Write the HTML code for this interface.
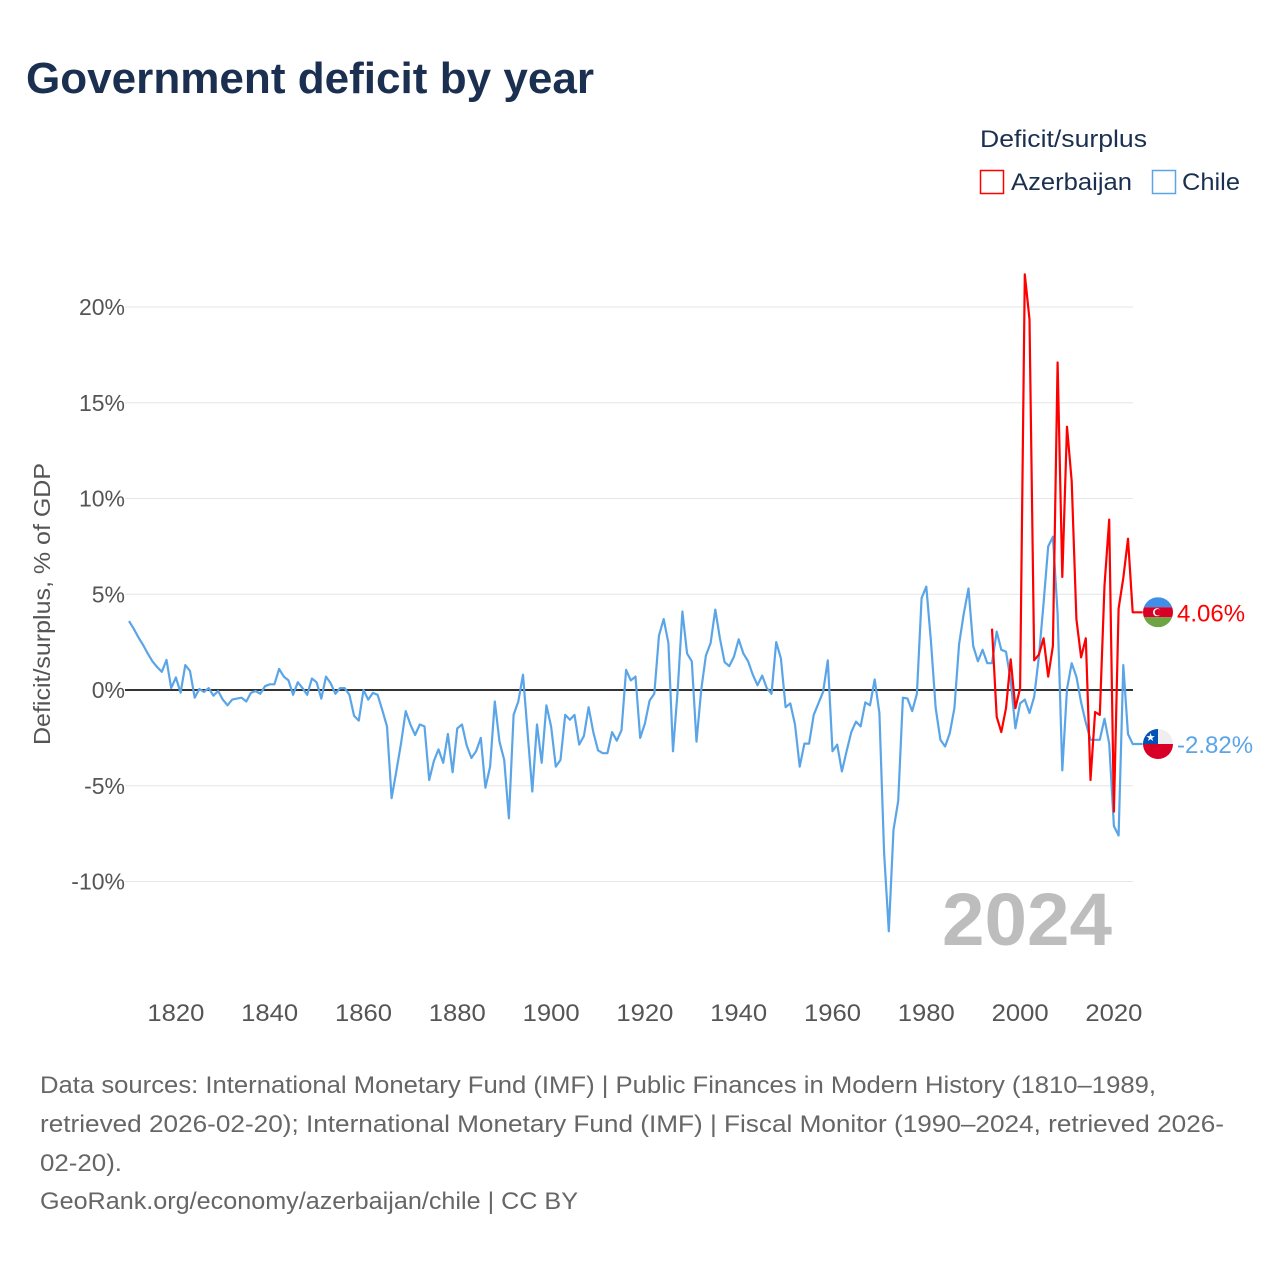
<!DOCTYPE html>
<html><head><meta charset="utf-8"><style>
html,body{margin:0;padding:0;background:#fff;}
svg{display:block;font-family:"Liberation Sans",sans-serif;}
</style></head><body>
<svg id="chart" width="1280" height="1280" viewBox="0 0 1280 1280" xmlns="http://www.w3.org/2000/svg">
<text x="26" y="93" font-size="44" font-weight="bold" fill="#1b3050" textLength="568" lengthAdjust="spacingAndGlyphs">Government deficit by year</text>
<text x="980" y="147" font-size="24" fill="#1b3050" textLength="167" lengthAdjust="spacingAndGlyphs">Deficit/surplus</text>
<g>
<rect x="980.5" y="170.5" width="23" height="23" fill="none" stroke="#ff0000" stroke-width="1.5"/>
<text x="1011" y="190" font-size="24" fill="#1b3050" textLength="121" lengthAdjust="spacingAndGlyphs">Azerbaijan</text>
</g>
<g>
<rect x="1152.5" y="170.5" width="23" height="23" fill="none" stroke="#5aa5e8" stroke-width="1.5"/>
<text x="1182" y="190" font-size="24" fill="#1b3050" textLength="58" lengthAdjust="spacingAndGlyphs">Chile</text>
</g>
<text transform="translate(50,604) rotate(-90)" text-anchor="middle" font-size="23" fill="#555" textLength="282" lengthAdjust="spacingAndGlyphs">Deficit/surplus, % of GDP</text>
<g id="grid"></g>
<g id="xticks"></g>
<text x="942" y="945" font-size="74" font-weight="bold" fill="#bdbdbd" textLength="170" lengthAdjust="spacingAndGlyphs">2024</text>
<g id="series"></g>
<g id="endlabels"></g>
<g font-size="24" fill="#666">
<text x="40" y="1093" textLength="1116" lengthAdjust="spacingAndGlyphs">Data sources: International Monetary Fund (IMF) | Public Finances in Modern History (1810–1989,</text>
<text x="40" y="1132" textLength="1184" lengthAdjust="spacingAndGlyphs">retrieved 2026-02-20); International Monetary Fund (IMF) | Fiscal Monitor (1990–2024, retrieved 2026-</text>
<text x="40" y="1171" textLength="82" lengthAdjust="spacingAndGlyphs">02-20).</text>
<text x="40" y="1209" textLength="538" lengthAdjust="spacingAndGlyphs">GeoRank.org/economy/azerbaijan/chile | CC BY</text>
</g>
</svg>
<script>
const chileStart = 1810;
const chileValues = [
3.6,3.2,2.75,2.35,1.9,1.5,1.2,0.95,1.57,0.1,
0.66,-0.14,1.3,1.0,-0.4,0.05,-0.1,0.1,-0.3,-0.05,
-0.5,-0.8,-0.5,-0.45,-0.4,-0.6,-0.15,-0.05,-0.2,0.2,
0.3,0.3,1.1,0.7,0.5,-0.25,0.4,0.1,-0.25,0.6,
0.4,-0.45,0.7,0.35,-0.2,0.1,0.1,-0.25,-1.35,-1.6,
0,-0.5,-0.15,-0.25,-1.05,-1.9,-5.65,-4.25,-2.8,-1.1,
-1.8,-2.35,-1.8,-1.9,-4.7,-3.7,-3.1,-3.8,-2.3,-4.3,
-2.0,-1.8,-2.9,-3.55,-3.2,-2.5,-5.1,-4.0,-0.6,-2.7,
-3.65,-6.7,-1.3,-0.6,0.8,-2.3,-5.3,-1.8,-3.8,-0.8,
-1.9,-4.0,-3.65,-1.3,-1.55,-1.3,-2.85,-2.4,-0.9,-2.2,
-3.15,-3.3,-3.3,-2.2,-2.65,-2.1,1.05,0.5,0.7,-2.5,
-1.75,-0.55,-0.2,2.85,3.7,2.45,-3.2,0,4.1,1.9,
1.5,-2.7,0,1.8,2.45,4.2,2.7,1.45,1.25,1.75,
2.65,1.9,1.5,0.8,0.25,0.75,0.1,-0.2,2.5,1.65,
-0.9,-0.7,-1.8,-4.0,-2.8,-2.8,-1.3,-0.7,-0.1,1.55,
-3.2,-2.85,-4.25,-3.2,-2.2,-1.65,-1.9,-0.65,-0.8,0.55,
-1.2,-8.5,-12.6,-7.3,-5.8,-0.4,-0.45,-1.1,-0.2,4.8,
5.4,2.5,-0.95,-2.6,-2.95,-2.25,-0.95,2.4,4.0,5.3,
2.3,1.5,2.1,1.4,1.4,3.05,2.1,2.0,0.5,-2.0,
-0.7,-0.5,-1.2,-0.35,1.75,4.55,7.5,8.0,4.0,-4.2,
0.05,1.4,0.7,-0.65,-1.7,-2.6,-2.6,-2.6,-1.5,-2.8,
-7.1,-7.6,1.3,-2.3,-2.82];
const azStart = 1994;
const azValues = [3.2,-1.4,-2.2,-0.95,1.6,-0.95,0.1,21.7,19.35,1.55,1.85,2.7,0.7,2.3,17.1,5.9,13.75,10.9,3.7,1.7,2.7,-4.7,-1.15,-1.3,5.45,8.9,-6.35,4.25,5.85,7.9,4.06];
const yTicks = [-10,-5,0,5,10,15,20];
const yTickLabels = ["-10%","-5%","0%","5%","10%","15%","20%"];
const xTicks = [1820,1840,1860,1880,1900,1920,1940,1960,1980,2000,2020];
const chileLabel = "-2.82%";
const azLabel = "4.06%";

const NS = "http://www.w3.org/2000/svg";
const X0 = 129, PX_PER_YEAR = 4.69, Y0 = 690, PX_PER_PCT = 19.15;
const xScale = yr => X0 + (yr - 1810) * PX_PER_YEAR;
const yScale = v => Y0 - v * PX_PER_PCT;
const PLOT_L = 125, PLOT_R = 1133;
function mk(tag, attrs, parent){const e=document.createElementNS(NS,tag);for(const k in attrs)e.setAttribute(k,attrs[k]);parent.appendChild(e);return e;}

const grid = document.getElementById('grid');
yTicks.forEach((t,i)=>{
  const y = yScale(t);
  if (t !== 0) {
    const l = mk('line',{x1:PLOT_L,x2:PLOT_R,y1:y,y2:y,stroke:'#e6e6e6','stroke-width':1},grid);
    
    
  }
  const tx = mk('text',{x:125,y:y+8,'text-anchor':'end','font-size':23,fill:'#555'},grid);
  tx.textContent = yTickLabels[i];
  
  
});
const xt = document.getElementById('xticks');
xTicks.forEach(t=>{
  const tx = mk('text',{x:xScale(t),y:1021,'text-anchor':'middle','font-size':24,fill:'#555',textLength:57,lengthAdjust:'spacingAndGlyphs'},xt);
  tx.textContent = t;
  
  
});

const series = document.getElementById('series');
function linePts(start, vals){return vals.map((v,i)=>xScale(start+i).toFixed(1)+','+yScale(v).toFixed(1));}
const zl = mk('line',{x1:PLOT_L,x2:PLOT_R,y1:Y0,y2:Y0,stroke:'#333','stroke-width':2},series);



function drawSeries(start, vals, color, name){
  const pts = linePts(start, vals);
  const lastV = vals[vals.length-1];
  pts.push((xScale(start+vals.length-1)+10).toFixed(1)+','+yScale(lastV).toFixed(1));
  const pl = mk('polyline',{points:pts.join(' '),fill:'none',stroke:color,'stroke-width':2.2,'stroke-linejoin':'round'},series);
  
  
}
drawSeries(chileStart, chileValues, '#5aa5e8', 'chile-line');
drawSeries(azStart, azValues, '#ff0000', 'azerbaijan-line');

const el = document.getElementById('endlabels');
const cx = 1158;
{
  const y = yScale(azValues[azValues.length-1]);
  const g = mk('g',{},el);
  
  
  mk('clipPath',{id:'cA'},g).appendChild(document.createElementNS(NS,'circle'));
  const c = g.querySelector('circle'); c.setAttribute('cx',cx); c.setAttribute('cy',y); c.setAttribute('r',15);
  const gg = mk('g',{'clip-path':'url(#cA)'},g);
  mk('rect',{x:cx-15,y:y-15,width:30,height:10,fill:'#3f8fea'},gg);
  mk('rect',{x:cx-15,y:y-5,width:30,height:10,fill:'#d80027'},gg);
  mk('rect',{x:cx-15,y:y+5,width:30,height:10,fill:'#6da544'},gg);
  mk('circle',{cx:cx-1,cy:y,r:4,fill:'#fff'},gg);
  mk('circle',{cx:cx,cy:y,r:3.3,fill:'#d80027'},gg);
  const t = mk('text',{x:1177,y:y+9,'font-size':24,fill:'#ff0000'},el);
  t.textContent = azLabel;
  
  
}
{
  const y = yScale(chileValues[chileValues.length-1]);
  const g = mk('g',{},el);
  
  
  mk('clipPath',{id:'cC'},g).appendChild(document.createElementNS(NS,'circle'));
  const c = g.querySelector('circle'); c.setAttribute('cx',cx); c.setAttribute('cy',y); c.setAttribute('r',15);
  const gg = mk('g',{'clip-path':'url(#cC)'},g);
  mk('rect',{x:cx-15,y:y-15,width:30,height:15,fill:'#eeeeee'},gg);
  mk('rect',{x:cx-15,y:y-15,width:15,height:15,fill:'#0052b4'},gg);
  mk('rect',{x:cx-15,y:y,width:30,height:15,fill:'#d80027'},gg);
  const s = mk('text',{x:cx-7.5,y:y-3,'text-anchor':'middle','font-size':11,fill:'#fff'},gg);
  s.textContent = '★';
  const t = mk('text',{x:1177,y:y+9,'font-size':24,fill:'#5aa5e8'},el);
  t.textContent = chileLabel;
  
  
}
</script>
</body></html>
